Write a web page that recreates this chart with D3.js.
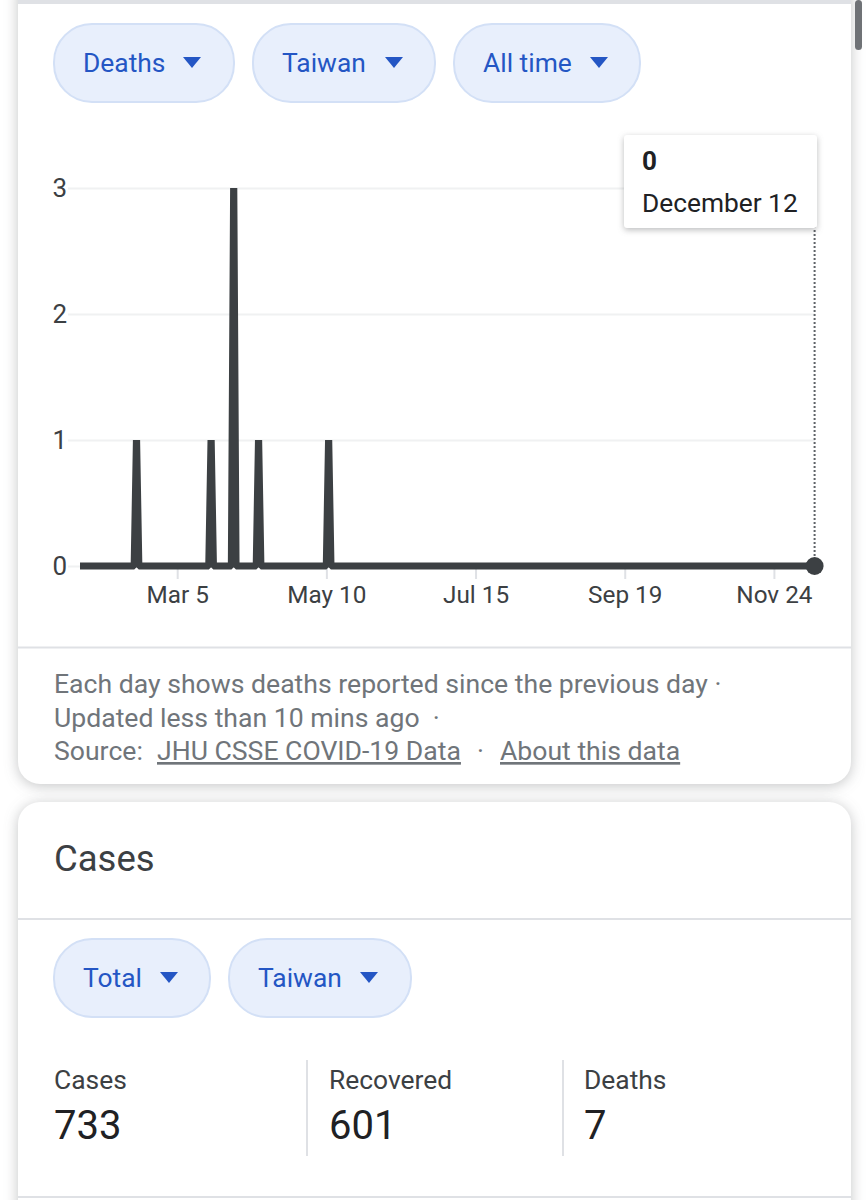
<!DOCTYPE html>
<meta charset="utf-8" />
<head>
  <title>Deaths Taiwan</title>
  <style>
    body {
      margin: 0;
      background: #fff;
      font-family: Roboto, sans-serif;
    }
    svg {
      display: block;
    }
    .card {
      fill: #fff;
      filter: drop-shadow(0 2px 7px rgba(60, 64, 67, 0.3));
    }
    .tooltip-box {
      fill: #fff;
      filter: drop-shadow(0 2px 3px rgba(60, 64, 67, 0.35));
    }
    .pill {
      fill: #e8effc;
      stroke: #d3e0f6;
      stroke-width: 2;
    }
    .pill-text {
      fill: #2456c4;
      font-size: 26.4px;
    }
    .divider {
      stroke: #dfe1e5;
      stroke-width: 2;
    }
    .axis path {
      display: none;
    }
    .axis text {
      fill: #3c4043;
      font-family: Roboto, sans-serif;
      font-size: 24.3px;
    }
    .y-axis text {
      font-size: 26px;
    }
    .note {
      fill: #70757a;
      font-size: 26.6px;
    }
    .note-link {
      text-decoration: underline;
    }
  </style>
</head>
<body>
  <svg id="page" width="868" height="1200"></svg>
  <script src="https://d3js.org/d3.v7.min.js"></script>
  <script>
    // Chart data
    const deathDates = [
      "2020-01-22", "2020-02-15", "2020-02-16", "2020-02-17",
      "2020-03-19", "2020-03-20", "2020-03-21",
      "2020-03-29", "2020-03-30", "2020-03-31",
      "2020-04-09", "2020-04-10", "2020-04-11",
      "2020-05-10", "2020-05-11", "2020-05-12", "2020-12-12",
    ];
    const deathValues = [0, 0, 1, 0, 0, 1, 0, 0, 3, 0, 0, 1, 0, 0, 1, 0, 0];
    const yTicks = [0, 1, 2, 3];
    const xTickDates = ["2020-03-05", "2020-05-10", "2020-07-15", "2020-09-19", "2020-11-24"];
    const xTickLabels = ["Mar 5", "May 10", "Jul 15", "Sep 19", "Nov 24"];
    const noteLines = [
      "Each day shows deaths reported since the previous day ·",
      "Updated less than 10 mins ago  ·",
    ];
    const statLabels = ["Cases", "Recovered", "Deaths"];
    const statValues = [733, 601, 7];

    const svg = d3.select("#page");
    const parseDay = d3.utcParse("%Y-%m-%d");

    // Cards
    svg.append("rect").attr("class", "card")
      .attr("x", 18).attr("y", -30).attr("width", 833).attr("height", 814).attr("rx", 22);
    svg.append("rect").attr("class", "card")
      .attr("x", 18).attr("y", 802).attr("width", 833).attr("height", 440).attr("rx", 22);

    function divider(x1, x2, y1, y2) {
      svg.append("line").attr("class", "divider")
        .attr("x1", x1).attr("x2", x2).attr("y1", y1).attr("y2", y2);
    }
    svg.append("rect").attr("x", 18).attr("y", 0).attr("width", 833).attr("height", 4).attr("fill", "#dfe1e5");
    svg.append("rect").attr("x", 855).attr("y", 0).attr("width", 7).attr("height", 50).attr("rx", 3.5).attr("fill", "#6f7276");
    divider(18, 851, 647.5, 647.5);
    divider(18, 851, 919, 919);
    divider(18, 851, 1197, 1197);

    // Filter chips
    function chip(x, y, w, label, arrowX) {
      const g = svg.append("g");
      g.append("rect").attr("class", "pill")
        .attr("x", x).attr("y", y).attr("width", w).attr("height", 78).attr("rx", 38);
      g.append("text").attr("class", "pill-text")
        .attr("x", x + 29).attr("y", y + 48).text(label);
      g.append("path").attr("fill", "#2456c4")
        .attr("d", d3.line()([[arrowX, y + 33], [arrowX + 18, y + 33], [arrowX + 9, y + 44]]));
    }
    chip(54, 24, 180, "Deaths", 183);
    chip(253, 24, 182, "Taiwan", 385);
    chip(454, 24, 186, "All time", 590);
    chip(54, 939, 156, "Total", 160);
    chip(229, 939, 182, "Taiwan", 360);

    // Chart
    const x = d3.scaleUtc()
      .domain([parseDay("2020-01-22"), parseDay("2020-12-12")])
      .range([80, 814.6]);
    const y = d3.scaleLinear().domain([0, 3]).range([566, 188]);

    const yAxis = svg.append("g").attr("class", "axis y-axis")
      .attr("transform", "translate(68,0)")
      .call(d3.axisLeft(y).tickValues(yTicks).tickFormat(d3.format("d")).tickSize(0).tickPadding(1));
    yAxis.selectAll(".tick line")
      .attr("x2", 747).attr("stroke", "#f0f1f2").attr("stroke-width", 2);

    const xAxis = svg.append("g").attr("class", "axis")
      .attr("transform", "translate(0,566)")
      .call(d3.axisBottom(x)
        .tickValues(xTickDates.map(parseDay))
        .tickFormat((d, i) => xTickLabels[i])
        .tickSize(13).tickPadding(7));
    xAxis.selectAll(".tick line").attr("stroke", "#dfe1e5").attr("stroke-width", 2);

    const deathPoints = deathDates.map((d, i) => ({ date: parseDay(d), value: deathValues[i] }));
    const lastPoint = deathPoints[deathPoints.length - 1];

    svg.append("line")
      .attr("x1", x(lastPoint.date)).attr("x2", x(lastPoint.date))
      .attr("y1", 226).attr("y2", y(lastPoint.value))
      .attr("stroke", "#5f6368").attr("stroke-width", 2).attr("stroke-dasharray", "2 2");

    svg.append("path").datum(deathPoints)
      .attr("fill", "none").attr("stroke", "#3c4043").attr("stroke-width", 7.2)
      .attr("stroke-linejoin", "bevel")
      .attr("d", d3.line().x((d) => x(d.date)).y((d) => y(d.value)));

    svg.append("circle")
      .attr("cx", x(lastPoint.date)).attr("cy", y(lastPoint.value)).attr("r", 9)
      .attr("fill", "#3c4043");

    // Tooltip
    svg.append("rect").attr("class", "tooltip-box")
      .attr("x", 624).attr("y", 135).attr("width", 193).attr("height", 93).attr("rx", 3);
    svg.append("text").attr("x", 642).attr("y", 170)
      .attr("font-size", 26).attr("font-weight", 700).attr("fill", "#202124")
      .text(lastPoint.value);
    svg.append("text").attr("x", 642).attr("y", 212)
      .attr("font-size", 26.3).attr("fill", "#202124").text("December 12");

    // Footer notes
    svg.selectAll(".note-line").data(noteLines).join("text")
      .attr("class", "note note-line").attr("xml:space", "preserve")
      .attr("x", 54).attr("y", (d, i) => 693 + i * 34).text((d) => d);
    function note(xPos, label, isLink) {
      svg.append("text").attr("class", isLink ? "note note-link" : "note")
        .attr("x", xPos).attr("y", 760).text(label);
    }
    note(54, "Source:", false);
    note(157, "JHU CSSE COVID-19 Data", true);
    note(477, "·", false);
    note(500, "About this data", true);

    // Cases card
    svg.append("text").attr("x", 54).attr("y", 871)
      .attr("font-size", 36.5).attr("fill", "#3c4043").text("Cases");

    const statPos = { Cases: 54, Recovered: 329, Deaths: 584 };
    statLabels.forEach((label, i) => {
      svg.append("text").attr("x", statPos[label]).attr("y", 1089)
        .attr("font-size", 26.4).attr("fill", "#3c4043").text(label);
      svg.append("text").attr("x", statPos[label]).attr("y", 1139)
        .attr("font-size", 40).attr("fill", "#202124").text(statValues[i]);
    });
    divider(307, 307, 1060, 1156);
    divider(563, 563, 1060, 1156);
  </script>
</body>
